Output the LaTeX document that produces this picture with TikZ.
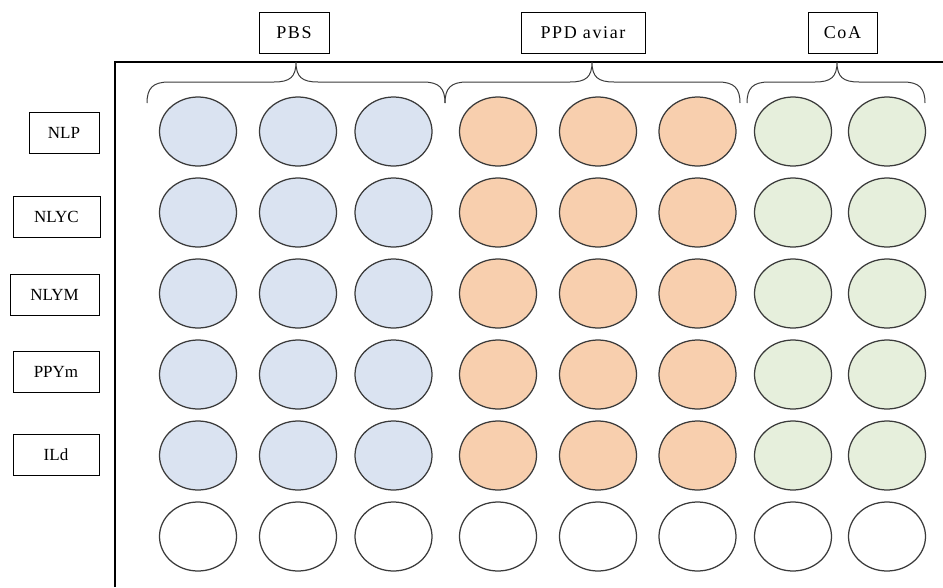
\documentclass[tikz,border=0pt]{standalone}
\usepackage{fontspec}
\setmainfont{Liberation Serif}
\newfontfamily\topfont[LetterSpace=9]{Liberation Serif}
\usetikzlibrary{shapes.geometric}
\definecolor{wellblue}{HTML}{DAE3F1}
\definecolor{wellorange}{HTML}{F8CFAE}
\definecolor{wellgreen}{HTML}{E6EFDC}
\definecolor{welledge}{HTML}{3A3A3A}
\tikzset{
  well/.style={ellipse, draw=welledge, line width=1.25pt, minimum width=77pt, minimum height=69pt, inner sep=0pt},
  lbl/.style={draw=black, line width=0.9pt, minimum height=41pt, inner sep=0pt, font=\fontsize{17}{20}\selectfont},
  toplbl/.style={lbl, font=\fontsize{18}{20}\topfont},
  platebrace/.style={draw=welledge, line width=1pt},
  plateline/.style={draw=black, line width=1.4pt}
}
\newcommand\mybrace[3]{%
  \draw[platebrace] (#1,103) .. controls (#1,88) and (#1+6,82) .. (#1+22,82) -- (#2-22,82)
    .. controls (#2-6,82) and (#2,77) .. (#2,62)
    .. controls (#2,77) and (#2+6,82) .. (#2+22,82) -- (#3-22,82)
    .. controls (#3-6,82) and (#3,88) .. (#3,103);}
\begin{document}
\begin{tikzpicture}[x=1pt,y=-1pt]
\useasboundingbox (0,0) rectangle (943,587);
% plate outline
\coordinate (pbl) at (115,587);
\coordinate (ptl) at (115,62);
\coordinate (ptr) at (943,62);
\draw[plateline] (pbl) -- (ptl) -- (ptr);
% braces
\mybrace{147}{296}{445}
\mybrace{445}{592}{740}
\mybrace{747}{837}{925}
% top labels
\node[toplbl, minimum width=70pt] (pbs) at (294,33) {PBS};
\node[toplbl, minimum width=124pt] (ppd) at (583,33) {PPD aviar};
\node[toplbl, minimum width=69pt] (coa) at (842.5,33) {CoA};
% side labels
\node[lbl, minimum width=70pt] (nlp) at (64,132.5) {NLP};
\node[lbl, minimum width=87pt] (nlyc) at (56.5,216.5) {NLYC};
\node[lbl, minimum width=89pt] (nlym) at (54.5,294.5) {NLYM};
\node[lbl, minimum width=86pt] (ppym) at (56,371.5) {PPYm};
\node[lbl, minimum width=86pt] (ild) at (56,455) {ILd};
% wells
\foreach \c/\x/\col in {1/198/wellblue,2/298/wellblue,3/393.5/wellblue,4/498/wellorange,5/598/wellorange,6/697.5/wellorange,7/793/wellgreen,8/887/wellgreen}{
  \foreach \r in {1,...,5}{
    \node[well, fill=\col] (w-\r-\c) at (\x,{131.5+81*(\r-1)}) {};
  }
  \node[well, fill=white] (w-6-\c) at (\x,536.5) {};
}
\end{tikzpicture}
\end{document}
